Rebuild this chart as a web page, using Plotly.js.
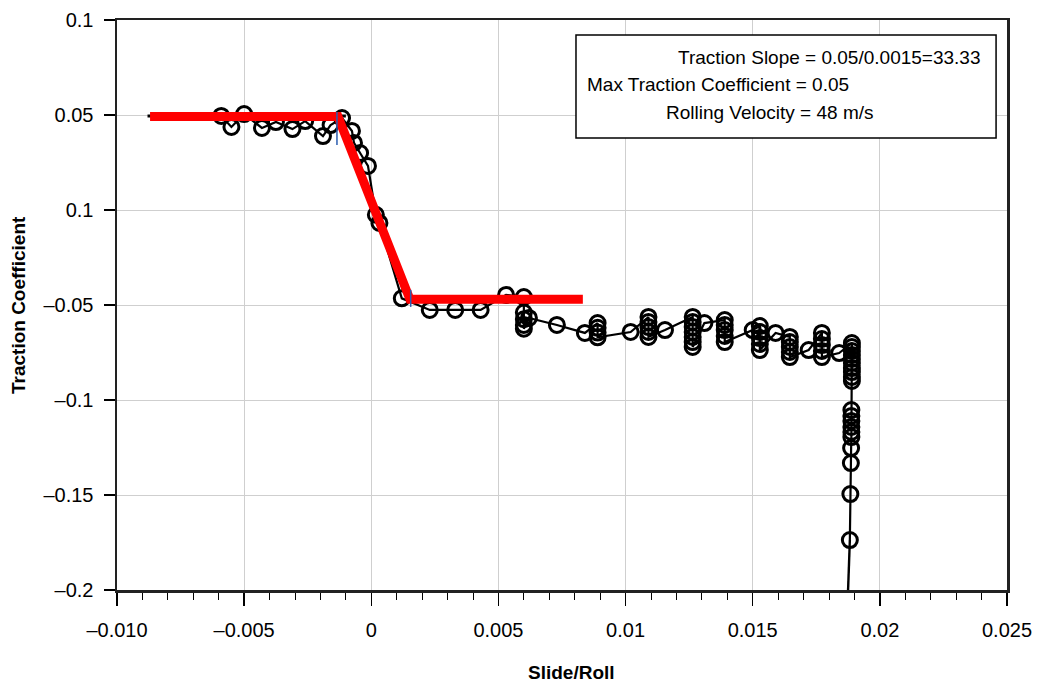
<!DOCTYPE html>
<html>
<head>
<meta charset="utf-8">
<script src="https://cdn.plot.ly/plotly-3.0.1.min.js"></script>
<style>html,body{margin:0;padding:0;background:#fff;}#chart{width:1039px;height:692px;}</style>
</head>
<body>
<div id="chart"></div>
<script>
// Measured data (open circles joined by a line)
const measX = [
  -0.0059, -0.0055, -0.0050, -0.0043, -0.00375, -0.0031, -0.0026, -0.0019, -0.0016, -0.00115,
  -0.00076, -0.00068, -0.00044, -0.00013, 0.00018, 0.00032, 0.0012,
  0.0023, 0.0033, 0.0043, 0.0053, 0.0060, 0.0060, 0.0060, 0.0060, 0.0060,
  0.0062, 0.0073, 0.0084,
  0.0089, 0.0089, 0.0089, 0.0089,
  0.0102,
  0.0109, 0.0109, 0.0109, 0.0109, 0.0109,
  0.01155,
  0.01264, 0.01264, 0.01264, 0.01264, 0.01264, 0.01264, 0.01264,
  0.0131,
  0.0139, 0.0139, 0.0139, 0.0139, 0.0139,
  0.0150,
  0.01528, 0.01528, 0.01528, 0.01528, 0.01528,
  0.0159,
  0.01646, 0.01646, 0.01646, 0.01646, 0.01646,
  0.0172,
  0.01772, 0.01772, 0.01772, 0.01772, 0.01772,
  0.0184,
  0.0189, 0.0189, 0.0189, 0.0189, 0.0189, 0.0189, 0.0189, 0.0189, 0.0189, 0.0189,
  0.01888, 0.01888, 0.01888, 0.01888, 0.01888, 0.01888, 0.01887, 0.01886, 0.01884, 0.01882
];
const measY = [
  0.0495, 0.0437, 0.0505, 0.0432, 0.0463, 0.0426, 0.0468, 0.0389, 0.0447, 0.0484,
  0.0416, 0.0353, 0.0300, 0.0232, -0.0025, -0.0068, -0.0465,
  -0.0526, -0.0526, -0.0526, -0.0447, -0.0458, -0.0540, -0.0575, -0.0605, -0.0625,
  -0.0568, -0.0605, -0.0647,
  -0.0595, -0.0620, -0.0645, -0.0670,
  -0.0642,
  -0.0563, -0.0589, -0.0616, -0.0642, -0.0668,
  -0.0632,
  -0.0563, -0.0589, -0.0616, -0.0642, -0.0668, -0.0695, -0.0721,
  -0.0595,
  -0.0579, -0.0605, -0.0632, -0.0663, -0.0695,
  -0.0632,
  -0.0611, -0.0642, -0.0674, -0.0705, -0.0737,
  -0.0647,
  -0.0668, -0.0695, -0.0721, -0.0747, -0.0774,
  -0.0737,
  -0.0647, -0.0679, -0.0711, -0.0742, -0.0774,
  -0.0753,
  -0.0700, -0.0721, -0.0742, -0.0763, -0.0784, -0.0805, -0.0832, -0.0853, -0.0879, -0.0900,
  -0.1053, -0.1084, -0.1110, -0.1142, -0.1168, -0.1195, -0.1253, -0.1332, -0.1495, -0.1737
];
// Tail of the measured line (no marker)
const tailX = [0.01882, 0.01875];
const tailY = [-0.1737, -0.2000];

// Thin black reference line under the red fit
const baseX = [-0.0088, -0.0010];
const baseY = [0.0495, 0.0495];

// Red piecewise traction model
const fitX = [-0.0087, -0.00131, 0.00152, 0.00832];
const fitY = [0.0492, 0.0492, -0.0470, -0.0470];

// Blue marker segments at the corners
const blue1X = [-0.00135, -0.00135];
const blue1Y = [0.0516, 0.0342];
const blue2X = [0.00155, 0.00155];
const blue2Y = [-0.0420, -0.0510];

// Axis ticks
const xTickVals = [-0.010, -0.005, 0, 0.005, 0.010, 0.015, 0.020, 0.025];
const xTickText = ['\u20130.010', '\u20130.005', '0', '0.005', '0.01', '0.015', '0.02', '0.025'];
const yTickVals = [0.1, 0.05, 0, -0.05, -0.1, -0.15, -0.2];
const yTickText = ['0.1', '0.05', '0.1', '\u20130.05', '\u20130.1', '\u20130.15', '\u20130.2'];

// Titles and info box text
const xTitle = 'Slide/Roll';
const yTitle = 'Traction Coefficient';
const infoLines = ['Traction Slope = 0.05/0.0015=33.33', 'Max Traction Coefficient = 0.05', 'Rolling Velocity = 48 m/s'];

const font = 'Liberation Sans, Arial, sans-serif';

const traces = [
  {x: measX, y: measY, type: 'scatter', mode: 'lines+markers',
   line: {color: '#000', width: 2.2},
   marker: {symbol: 'circle-open', size: 15, color: '#000', line: {color: '#000', width: 3}},
   hoverinfo: 'skip', showlegend: false},
  {x: tailX, y: tailY, type: 'scatter', mode: 'lines', line: {color: '#000', width: 2.4}, showlegend: false, hoverinfo: 'skip'},
  {x: baseX, y: baseY, type: 'scatter', mode: 'lines', line: {color: '#000', width: 3}, showlegend: false, hoverinfo: 'skip'},
  {x: fitX, y: fitY, type: 'scatter', mode: 'lines', line: {color: '#ff0000', width: 9}, showlegend: false, hoverinfo: 'skip'},
  {x: blue1X, y: blue1Y, type: 'scatter', mode: 'lines', line: {color: '#2a5db0', width: 1.5}, showlegend: false, hoverinfo: 'skip'},
  {x: blue2X, y: blue2Y, type: 'scatter', mode: 'lines', line: {color: '#2a5db0', width: 1.5}, showlegend: false, hoverinfo: 'skip'}
];

const layout = {
  width: 1039, height: 692,
  margin: {l: 117, r: 32, t: 20, b: 102},
  paper_bgcolor: '#fff', plot_bgcolor: '#fff',
  font: {family: font, size: 20, color: '#000'},
  showlegend: false,
  xaxis: {
    range: [-0.010, 0.025], tickmode: 'array', tickvals: xTickVals, ticktext: xTickText,
    ticks: 'outside', ticklen: 13, tickwidth: 1.5, tickcolor: '#000',
    minor: {dtick: 0.001, ticks: 'outside', ticklen: 7, tickwidth: 1, tickcolor: '#000', showgrid: false},
    showgrid: true, gridcolor: '#cfcfcf', gridwidth: 1,
    zeroline: false, showline: true, linecolor: '#222', linewidth: 2.5, mirror: true,
    tickfont: {family: font, size: 20}, ticklabelstandoff: 7,
    fixedrange: true
  },
  yaxis: {
    range: [-0.2, 0.1], tickmode: 'array', tickvals: yTickVals, ticktext: yTickText,
    ticks: 'outside', ticklen: 11, tickwidth: 1.5, tickcolor: '#000',
    showgrid: true, gridcolor: '#cfcfcf', gridwidth: 1,
    zeroline: false, showline: true, linecolor: '#222', linewidth: 2.5, mirror: true,
    tickfont: {family: font, size: 20}, ticklabelstandoff: 6,
    fixedrange: true
  },
  shapes: [
    {type: 'rect', xref: 'x', yref: 'y', x0: 0.00805, x1: 0.02457, y0: 0.0379, y1: 0.0921,
     line: {color: '#000', width: 1.5}, fillcolor: '#fff', layer: 'above'}
  ],
  annotations: [
    {xref: 'x', yref: 'y', x: 0.02401, y: 0.0805, xanchor: 'right', yanchor: 'middle', text: infoLines[0], showarrow: false, font: {family: font, size: 19}},
    {xref: 'x', yref: 'y', x: 0.0084, y: 0.0658, xanchor: 'left', yanchor: 'middle', text: infoLines[1], showarrow: false, font: {family: font, size: 19}},
    {xref: 'x', yref: 'y', x: 0.01568, y: 0.0511, xanchor: 'center', yanchor: 'middle', text: infoLines[2], showarrow: false, font: {family: font, size: 19}},
    {xref: 'paper', yref: 'paper', x: 0.5106, y: -0.1439, xanchor: 'center', yanchor: 'middle', text: '<b>' + xTitle + '</b>', showarrow: false, font: {family: font, size: 19}},
    {xref: 'paper', yref: 'paper', x: -0.1112, y: 0.5, xanchor: 'center', yanchor: 'middle', textangle: -90, text: '<b>' + yTitle + '</b>', showarrow: false, font: {family: font, size: 19}}
  ]
};

Plotly.newPlot('chart', traces, layout, {displayModeBar: false, staticPlot: true});
</script>
</body>
</html>
